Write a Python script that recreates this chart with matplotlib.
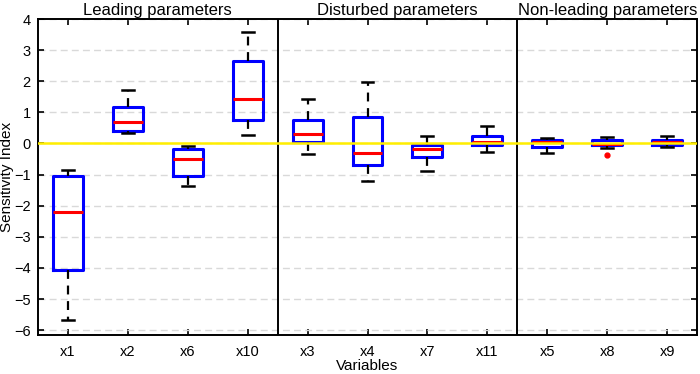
import matplotlib
matplotlib.use("Agg")
import matplotlib.pyplot as plt
import matplotlib.transforms as mtransforms

plt.rcParams['font.family'] = ['Liberation Sans', 'DejaVu Sans']

# variables in plotting order
labels = ["x1", "x2", "x6", "x10", "x3", "x4", "x7", "x11", "x5", "x8", "x9"]
whislo = [-5.68, 0.35, -1.38, 0.26, -0.35, -1.21, -0.89, -0.28, -0.29, -0.13, -0.11]
q1 = [-4.06, 0.40, -1.03, 0.74, 0.04, -0.69, -0.42, -0.05, -0.10, -0.04, -0.06]
med = [-2.20, 0.68, -0.49, 1.44, 0.31, -0.29, -0.17, 0.04, 0.04, -0.01, 0.04]
q3 = [-1.03, 1.17, -0.19, 2.65, 0.75, 0.85, -0.05, 0.24, 0.12, 0.12, 0.12]
whishi = [-0.84, 1.73, -0.09, 3.59, 1.44, 1.97, 0.23, 0.56, 0.17, 0.20, 0.25]
fliers = [[], [], [], [], [], [], [], [], [], [-0.37], []]

groups = ["Leading parameters", "Disturbed parameters", "Non-leading parameters"]
group_sizes = [4, 4, 3]

stats = []
for i, lab in enumerate(labels):
	stats.append({
		"label": lab, "whislo": whislo[i], "q1": q1[i], "med": med[i],
		"q3": q3[i], "whishi": whishi[i], "fliers": fliers[i],
	})

fig = plt.figure(figsize=(7.0, 3.74), dpi=100)
ax = fig.add_axes([0.054, 0.104, 0.942, 0.845])

pos = list(range(1, len(labels) + 1))
ax.bxp(stats, positions=pos, widths=0.5, capwidths=0.2, showfliers=True,
	boxprops=dict(color="#0000ff", linewidth=2.2),
	medianprops=dict(color="#ff0000", linewidth=2.2),
	whiskerprops=dict(color="black", linewidth=1.6, linestyle=(0, (4, 3))),
	capprops=dict(color="black", linewidth=1.8),
	flierprops=dict(marker="o", markerfacecolor="#ff0000", markeredgecolor="#ff0000", markersize=3.5))

# zero reference line
ax.axhline(0, color="#ffee00", linewidth=1.8, zorder=5)

# group separators and titles
trans = mtransforms.blended_transform_factory(ax.transData, ax.transAxes)
start = 0.5
for name, n in zip(groups, group_sizes):
	end = start + n
	if end < len(labels) + 0.5:
		ax.axvline(end, color="black", linewidth=1.4)
	ax.text((start + end) / 2, 1.003, name, transform=trans, ha="center", va="bottom", fontsize=12)
	start = end

ax.set_xlim(0.5, len(labels) + 0.5)
ax.set_ylim(-6.16, 4)
ax.set_yticks(range(-6, 5))
ax.set_xticks(pos)
ax.set_xticklabels(labels)
ax.yaxis.grid(True, color="#d9d9d9", linestyle=(0, (5, 3)), linewidth=1.0)
ax.set_axisbelow(True)
ax.tick_params(direction="in", top=True, right=True, labelsize=10.5, length=4, width=1.2)
ax.tick_params(axis="x", pad=7)
ax.tick_params(axis="y", pad=5)
for s in ax.spines.values():
	s.set_linewidth(1.4)
ax.set_xlabel("Variables", fontsize=11, labelpad=0)
ax.set_ylabel("Sensitivity Index", fontsize=11, labelpad=0)

fig.savefig("out.png", dpi=100)
